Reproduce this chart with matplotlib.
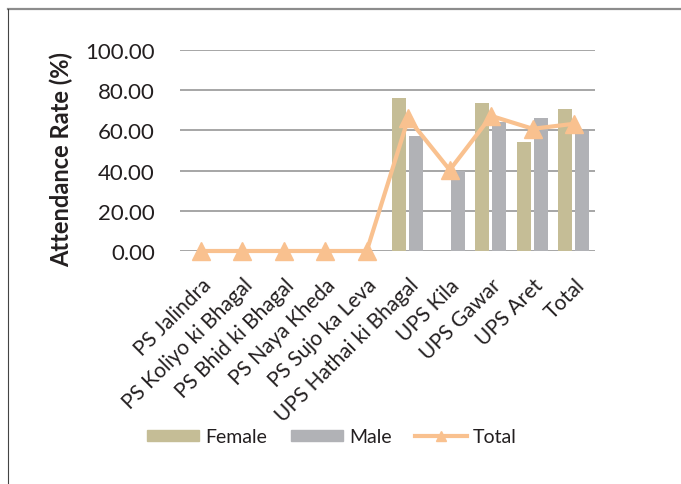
import matplotlib
matplotlib.use('Agg')
import matplotlib.pyplot as plt
from matplotlib.lines import Line2D
import numpy as np

schools = ['PS Jalindra', 'PS Koliyo ki Bhagal', 'PS Bhid ki Bhagal', 'PS Naya Kheda',
           'PS Sujo ka Leva', 'UPS Hathai ki Bhagal', 'UPS Kila', 'UPS Gawar',
           'UPS Aret', 'Total']
female = [0, 0, 0, 0, 0, 76.0, 0, 73.6, 54.1, 70.6]
male = [0, 0, 0, 0, 0, 57.1, 39.7, 64.0, 66.3, 59.9]
total = [0, 0, 0, 0, 0, 66.0, 40.3, 67.2, 60.8, 63.3]
yticks = [0, 20, 40, 60, 80, 100]

plt.rcParams['font.family'] = ['Lato', 'DejaVu Sans']
txt = '#231F20'

fig = plt.figure(figsize=(6.81, 4.85), dpi=100)
ax = fig.add_axes([180/681, 1 - 252/485, 415/681, 201/485])

x = np.arange(len(schools))
w = 0.33
ax.bar(x - 0.215, female, w, color='#C5BD96', zorder=2)
ax.bar(x + 0.195, male, w, color='#B1B2B6', zorder=2)
ax.plot(x, total, color='#F9C18F', lw=3, marker='^', ms=13,
        solid_capstyle='round', zorder=3, clip_on=False)

ax.set_xlim(-0.5, len(schools) - 0.5)
ax.set_ylim(0, 100)
ax.set_yticks(yticks)
ax.set_yticklabels(['{:.2f}'.format(v) for v in yticks], fontsize=16, color=txt)
ax.yaxis.grid(True, color='#A6A6A6', lw=1.4, zorder=0)
ax.set_axisbelow(True)
ax.tick_params(axis='y', length=0, pad=18)
ax.tick_params(axis='x', length=0, pad=17)
ax.set_xticks(x)
ax.set_xticklabels(schools, rotation=45, ha='right', rotation_mode='anchor',
                   fontsize=15, color=txt)
for s in ax.spines.values():
    s.set_visible(False)
ax.set_ylabel('Attendance Rate (%)', fontsize=17, fontweight='bold', color=txt)
ax.yaxis.set_label_coords(-0.258, 0.46)

handles = [plt.Rectangle((0, 0), 1, 1, color='#C5BD96'),
           plt.Rectangle((0, 0), 1, 1, color='#B1B2B6'),
           Line2D([], [], color='#F9C18F', lw=3, marker='^', ms=7)]
fig.legend(handles, ['Female', 'Male', 'Total'], loc='center',
           bbox_to_anchor=(332/681, 1 - 438/485), ncol=3, frameon=False,
           fontsize=14, handlelength=2.7, handleheight=0.55, columnspacing=1.2,
           handletextpad=0.3, labelcolor=txt)

# outer frame (top and left edges)
fig.add_artist(Line2D([8/681, 1], [1 - 10/485, 1 - 10/485], color='#8C8C8C', lw=1.6,
                      transform=fig.transFigure))
fig.add_artist(Line2D([8/681, 8/681], [0, 1 - 10/485], color='#444444', lw=0.8,
                      transform=fig.transFigure))

fig.savefig('out.png', dpi=100)
